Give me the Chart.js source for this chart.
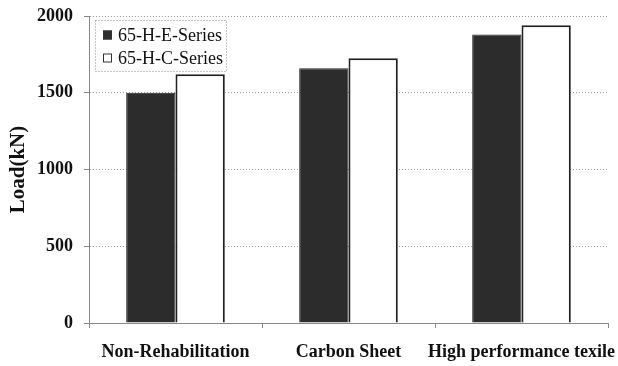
<!DOCTYPE html>
<html>
<head>
<meta charset="utf-8">
<script src="https://cdn.jsdelivr.net/npm/chart.js@4/dist/chart.umd.min.js"></script>
<style>
  html, body { margin: 0; padding: 0; background: #fff; }
  #wrap { width: 618px; height: 366px; }
</style>
</head>
<body>
<div id="wrap"><canvas id="loadChart" width="618" height="366"></canvas></div>
<script>
const categories = ["Non-Rehabilitation", "Carbon Sheet", "High performance texile"];
const seriesNames = ["65-H-E-Series", "65-H-C-Series"];
const eSeries = [1500, 1660, 1880];
const cSeries = [1620, 1725, 1940];
const yTicks = [0, 500, 1000, 1500, 2000];

const serif = "'Liberation Serif', 'DejaVu Serif', serif";

// legend box drawn by hand, Excel style, inside the plot
const boxedLegend = {
    id: "boxedLegend",
    afterDraw(chart) {
        const ctx = chart.ctx;
        const area = chart.chartArea;
        const x = area.left + 6, y = area.top + 4, w = 131, h = 51;
        ctx.save();
        ctx.fillStyle = "#fff";
        ctx.fillRect(x, y, w, h);
        ctx.strokeStyle = "#888";
        ctx.lineWidth = 1;
        ctx.setLineDash([1, 2]);
        ctx.strokeRect(x + 0.5, y + 0.5, w, h);
        ctx.setLineDash([]);
        ctx.font = "18px " + serif;
        ctx.textBaseline = "middle";
        chart.data.datasets.forEach((ds, i) => {
            const cy = y + 15 + i * 23;
            ctx.fillStyle = ds.backgroundColor;
            ctx.fillRect(x + 8, cy - 4.5, 9, 9);
            ctx.strokeStyle = "#333";
            ctx.strokeRect(x + 8.5, cy - 4, 8, 8);
            ctx.fillStyle = "#111";
            ctx.fillText(ds.label, x + 23, cy + 1);
        });
        ctx.restore();
    }
};

// keep the plot box fixed, let outer labels overhang like in Excel
function noPad(scale) {
    scale.paddingLeft = 0;
    scale.paddingRight = 0;
    scale.paddingTop = 0;
    scale.paddingBottom = 0;
}

new Chart(document.getElementById("loadChart"), {
    type: "bar",
    data: {
        labels: categories,
        datasets: [
            {
                label: seriesNames[0],
                data: eSeries,
                backgroundColor: "#2c2c2c",
                borderColor: "#222",
                borderWidth: 1
            },
            {
                label: seriesNames[1],
                data: cSeries,
                backgroundColor: "#ffffff",
                borderColor: "#222",
                borderWidth: 2
            }
        ]
    },
    options: {
        responsive: false,
        animation: false,
        layout: { padding: { top: 16, right: 10, left: 0, bottom: 0 } },
        datasets: { bar: { categoryPercentage: 0.57, barPercentage: 1 } },
        plugins: {
            legend: { display: false },
            tooltip: { enabled: false }
        },
        scales: {
            x: {
                grid: { drawOnChartArea: false, drawTicks: true, tickLength: 5, color: "#888" },
                border: { display: true, color: "#888", dash: [1, 2] },
                ticks: { color: "#111", padding: 14, font: { family: serif, size: 18, weight: "bold" }, maxRotation: 0, autoSkip: false },
                afterFit(scale) { scale.height = 43; noPad(scale); }
            },
            y: {
                min: 0,
                max: 2000,
                afterBuildTicks(scale) { scale.ticks = yTicks.map(v => ({ value: v })); },
                grid: { color: "#999", tickLength: 5, tickColor: "#888", lineWidth: 1 },
                border: { display: true, color: "#888", dash: [1, 2] },
                ticks: {
                    color: "#111",
                    padding: 11,
                    font: { family: serif, size: 18, weight: "bold" },
                    callback: v => String(v)
                },
                title: { display: true, text: "Load(kN)", color: "#111", padding: { top: 6, bottom: 0 }, font: { family: serif, size: 21, weight: "bold" } },
                afterFit(scale) { scale.width = 89; noPad(scale); }
            }
        }
    },
    plugins: [
        boxedLegend,
        {
            id: "dottedGrid",
            beforeDraw(chart) {
                chart.options.scales.y.grid.borderDash = [1, 2];
            }
        }
    ]
});
</script>
</body>
</html>
